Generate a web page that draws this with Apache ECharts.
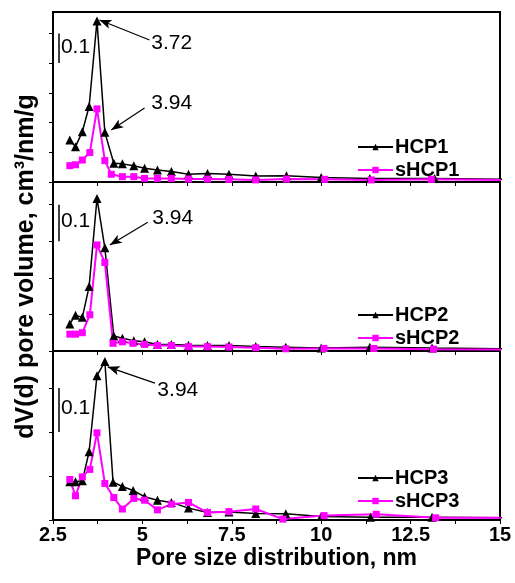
<!DOCTYPE html>
<html>
<head>
<meta charset="utf-8">
<script src="https://cdn.jsdelivr.net/npm/echarts@6/dist/echarts.min.js"></script>
<style>
  html, body { margin: 0; padding: 0; background: #fff; }
  #chart { width: 515px; height: 583px; }
</style>
</head>
<body>
<div id="chart"></div>
<script>
// pore size (nm) and dV(d) values
var xHCP1 = [2.97, 3.13, 3.32, 3.51, 3.73, 3.95, 4.20, 4.44, 4.76, 5.06, 5.42, 5.81, 6.29, 6.82, 7.42, 8.17, 9.03, 10.0, 11.36, 13.17, 15.6];
var yHCP1 = [0.141, 0.119, 0.169, 0.254, 0.542, 0.167, 0.063, 0.061, 0.055, 0.046, 0.040, 0.035, 0.026, 0.029, 0.026, 0.020, 0.021, 0.015, 0.012, 0.012, 0.008];
var xsHCP1 = [2.97, 3.13, 3.32, 3.53, 3.73, 3.95, 4.13, 4.44, 4.76, 5.06, 5.42, 5.81, 6.29, 6.82, 7.42, 8.17, 9.03, 10.1, 11.4, 13.08, 15.6];
var ysHCP1 = [0.055, 0.058, 0.074, 0.099, 0.246, 0.072, 0.026, 0.018, 0.018, 0.012, 0.012, 0.012, 0.010, 0.010, 0.009, 0.007, 0.010, 0.009, 0.007, 0.009, 0.006];

var xHCP2 = [2.97, 3.13, 3.32, 3.51, 3.73, 3.95, 4.20, 4.44, 4.76, 5.06, 5.42, 5.81, 6.29, 6.82, 7.42, 8.17, 9.01, 10.0, 11.36, 13.1, 15.6];
var yHCP2 = [0.074, 0.098, 0.092, 0.176, 0.417, 0.282, 0.041, 0.035, 0.028, 0.025, 0.018, 0.018, 0.016, 0.015, 0.015, 0.012, 0.010, 0.008, 0.010, 0.008, 0.006];
var xsHCP2 = [2.97, 3.13, 3.32, 3.53, 3.73, 3.95, 4.18, 4.44, 4.74, 5.06, 5.42, 5.81, 6.29, 6.82, 7.42, 8.17, 9.01, 10.08, 11.47, 13.14, 15.6];
var ysHCP2 = [0.046, 0.046, 0.050, 0.099, 0.290, 0.242, 0.021, 0.025, 0.021, 0.018, 0.015, 0.015, 0.012, 0.012, 0.011, 0.009, 0.006, 0.007, 0.007, 0.005, 0.004];

var xHCP3 = [2.97, 3.13, 3.32, 3.51, 3.73, 3.95, 4.18, 4.44, 4.74, 5.06, 5.42, 5.81, 6.29, 6.82, 7.42, 8.17, 9.01, 10.0, 11.38, 13.1, 15.6];
var yHCP3 = [0.087, 0.087, 0.089, 0.155, 0.328, 0.360, 0.086, 0.076, 0.067, 0.053, 0.045, 0.040, 0.027, 0.017, 0.018, 0.015, 0.014, 0.008, 0.006, 0.006, 0.005];
var xsHCP3 = [2.97, 3.13, 3.32, 3.53, 3.73, 3.95, 4.20, 4.44, 4.76, 5.06, 5.42, 5.81, 6.29, 6.82, 7.42, 8.17, 8.93, 10.08, 11.54, 13.2, 15.6];
var ysHCP3 = [0.092, 0.055, 0.098, 0.115, 0.198, 0.083, 0.051, 0.025, 0.049, 0.045, 0.023, 0.036, 0.040, 0.017, 0.019, 0.025, 0.002, 0.010, 0.013, 0.005, 0.005];

var xTicks = ['2.5', '5', '7.5', '10', '12.5', '15'];
var yMax = [0.572, 0.462, 0.384];
var names = [['HCP1', 'sHCP1'], ['HCP2', 'sHCP2'], ['HCP3', 'sHCP3']];
// peak annotations: [label, text pos, arrow start, arrow end]
var notes = [
  [['3.72', [5.82, 0.468], [5.20, 0.478], [3.80, 0.545]], ['3.94', [5.82, 0.266], [5.06, 0.249], [4.13, 0.175]]],
  [['3.94', [5.85, 0.363], [5.15, 0.352], [4.09, 0.290]]],
  [['3.94', [5.99, 0.295], [5.35, 0.311], [4.03, 0.348]]]
];
// 0.1 scale bars: bottom value of each bar
var barBase = [0.40, 0.30, 0.20];

var font = 'Liberation Sans, Arial, sans-serif';
var grids = [{ top: 12, height: 170 }, { top: 182, height: 169 }, { top: 351, height: 169 }];

function pairs(xs, ys) {
  return xs.map(function (x, i) { return [x, ys[i]]; });
}
function range(max) {
  var out = [];
  for (var v = 0; v <= max + 1e-9; v += 0.1) out.push(+v.toFixed(1));
  return out;
}

var seriesData = [
  [pairs(xHCP1, yHCP1), pairs(xsHCP1, ysHCP1)],
  [pairs(xHCP2, yHCP2), pairs(xsHCP2, ysHCP2)],
  [pairs(xHCP3, yHCP3), pairs(xsHCP3, ysHCP3)]
];

var option = {
  backgroundColor: '#fff',
  animation: false,
  grid: [], xAxis: [], yAxis: [], legend: [], series: []
};

for (var p = 0; p < 3; p++) {
  option.grid.push({
    left: 53, right: 15, top: grids[p].top, height: grids[p].height,
    show: true, borderColor: '#000', borderWidth: 2, backgroundColor: 'transparent'
  });
  var last = p === 2;
  option.xAxis.push({
    type: 'value', gridIndex: p, min: 2.5, max: 15, interval: 2.5,
    axisLine: { show: true, lineStyle: { color: '#000', width: 2 } },
    axisTick: { show: true, inside: false, length: 4, lineStyle: { color: '#000', width: 1 } },
    minorTick: { show: true, splitNumber: 2, length: 4, lineStyle: { color: '#000', width: 1 } },
    splitLine: { show: false },
    axisLabel: {
      show: last, color: '#000', fontFamily: font, fontWeight: 'bold', fontSize: 20, margin: 5,
      formatter: function (v) { return xTicks[Math.round((v - 2.5) / 2.5)]; }
    },
    name: last ? 'Pore size distribution, nm' : '',
    nameLocation: 'middle', nameGap: 27,
    nameTextStyle: { color: '#000', fontFamily: font, fontWeight: 'bold', fontSize: 23 }
  });
  option.yAxis.push({
    type: 'value', gridIndex: p, min: 0, max: yMax[p],
    axisLine: { show: true, lineStyle: { color: '#000', width: 2 } },
    axisTick: { show: true, inside: false, length: 4, customValues: range(yMax[p]), lineStyle: { color: '#000', width: 1 } },
    axisLabel: { show: false, customValues: range(yMax[p]) },
    splitLine: { show: false },
    name: p === 1 ? 'dV(d) pore volume, cm\u00b3/nm/g' : '',
    nameLocation: 'middle', nameGap: 14,
    nameTextStyle: { color: '#000', fontFamily: font, fontWeight: 'bold', fontSize: 25 }
  });
  option.legend.push({
    data: names[p], orient: 'vertical', left: 352, top: [132, 300, 463][p],
    itemWidth: 35, itemHeight: 8, itemGap: 3,
    textStyle: { color: '#000', fontFamily: font, fontWeight: 'bold', fontSize: 20, padding: [0, 0, 0, -3] }
  });

  var arrows = notes[p].map(function (n) {
    return [{ coord: n[2], symbol: 'none' }, { coord: n[3], symbol: 'arrow', symbolSize: [7, 12] }];
  });
  var texts = notes[p].map(function (n) {
    return { name: n[0], coord: n[1] };
  });
  texts.push({ name: '0.1', coord: [3.13, barBase[p] + 0.055] });

  option.series.push({
    name: names[p][0], type: 'line', xAxisIndex: p, yAxisIndex: p,
    data: seriesData[p][0],
    symbol: 'triangle', symbolSize: 9, showAllSymbol: true,
    color: '#000', lineStyle: { color: '#000', width: 1.5 },
    itemStyle: { color: '#000' },
    markLine: {
      silent: true, animation: false, label: { show: false },
      lineStyle: { color: '#000', width: 1.2, type: 'solid' },
      data: arrows
    },
    markPoint: {
      silent: true, symbol: 'circle', symbolSize: 0,
      label: { show: true, position: 'inside', formatter: '{b}', color: '#000', fontFamily: font, fontSize: 21 },
      data: texts
    }
  });
  option.series.push({
    name: names[p][1], type: 'line', xAxisIndex: p, yAxisIndex: p,
    data: seriesData[p][1],
    symbol: 'rect', symbolSize: 7, showAllSymbol: true,
    color: '#ff00ff', lineStyle: { color: '#ff00ff', width: 2 },
    itemStyle: { color: '#ff00ff' },
    markLine: {
      silent: true, animation: false, label: { show: false }, symbol: 'none',
      lineStyle: { color: '#000', width: 1.5, type: 'solid' },
      data: [[{ coord: [2.66, barBase[p]] }, { coord: [2.66, barBase[p] + 0.1] }]]
    }
  });
}

var myChart = echarts.init(document.getElementById('chart'), null, { renderer: 'canvas' });
myChart.setOption(option);
</script>
</body>
</html>
